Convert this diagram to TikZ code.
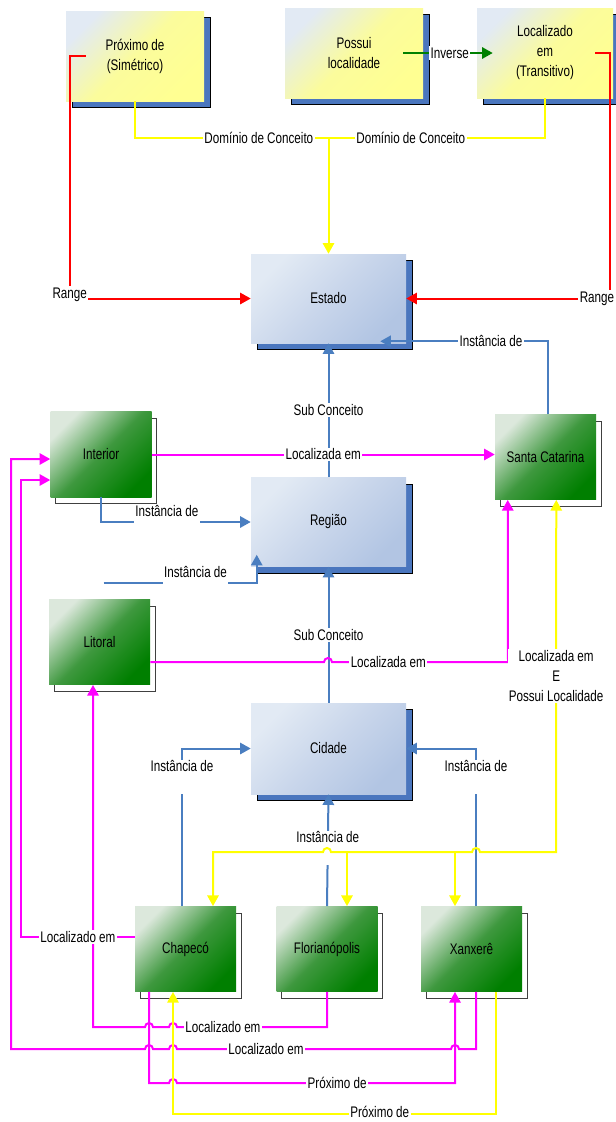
\documentclass[tikz,border=0pt]{standalone}
\usepackage{fontspec}
\setmainfont{Liberation Sans}[FakeStretch=0.76]
\usepackage{tikz}
\usetikzlibrary{arrows.meta,positioning,calc,shadows}
\definecolor{ontomist}{HTML}{E2EAF4}
\definecolor{ontocream}{HTML}{FBFC9C}
\definecolor{ontoyellow}{HTML}{FFFF92}
\definecolor{ontopale}{HTML}{C9D6EB}
\definecolor{ontoblue}{HTML}{B2C5E3}
\definecolor{ontoshadow}{HTML}{4A76BE}
\definecolor{ontoleaf}{HTML}{DCE8DC}
\definecolor{ontomid}{HTML}{3E983E}
\definecolor{ontogreen}{HTML}{007F00}
\definecolor{ontoline}{HTML}{4A7EC0}
\definecolor{ontomag}{HTML}{FF00FF}
\definecolor{ontoyel}{HTML}{FFFF00}
\definecolor{ontored}{HTML}{FF0000}
\definecolor{ontoarrow}{HTML}{008000}
\newcommand{\ontofont}{\fontsize{11.5}{15}\selectfont}

\begin{document}
\begin{tikzpicture}[x=0.75pt, y=-0.75pt,
  every node/.style={font=\ontofont},
  >={Triangle[length=8pt,width=8.5pt]},
  propbox/.style={minimum width=103.5pt, minimum height=67.5pt, align=center, top color=ontomist, bottom color=ontoyellow, middle color=ontocream, shading angle=45, drop shadow={shadow xshift=4.5pt, shadow yshift=-5pt, opacity=1, fill=ontoshadow, draw=black, line width=0.6pt}},
  classbox/.style={minimum width=116.25pt, minimum height=66.75pt, top color=ontomist, bottom color=ontoblue, middle color=ontopale, shading angle=45, drop shadow={shadow xshift=4.5pt, shadow yshift=-5pt, opacity=1, fill=ontoshadow, draw=black, line width=0.6pt}},
  instbox/.style={minimum width=75.75pt, minimum height=64pt, top color=ontoleaf, bottom color=ontogreen, middle color=ontomid, shading angle=45, drop shadow={shadow xshift=4pt, shadow yshift=-5pt, opacity=1, fill=white, draw=black!75, line width=0.7pt}},
  rline/.style={draw=ontored, line width=1.5pt},
  yline/.style={draw=ontoyel, line width=1.5pt},
  gline/.style={draw=ontoarrow, line width=1.5pt},
  bline/.style={draw=ontoline, line width=1.5pt},
  mline/.style={draw=ontomag, line width=1.5pt},
  lbl/.style={fill=white, inner sep=1pt},
  lblhigh/.style={lbl, text height=8pt, text depth=16pt}
]
\useasboundingbox (0,0) rectangle (616,1122);
\fill[white] (0,0) rectangle (616,1122);

% Properties (top row)
\node[propbox] (prox) at (135,56) {Próximo de\\(Simétrico)};
\node[propbox] (poss) at (354,53) {Possui\\localidade};
\node[propbox, minimum width=102pt] (loc) at (545,53) {Localizado\\em\\(Transitivo)};

% Concepts
\node[classbox] (estado) at (328.5,298.5) {Estado};
\node[classbox] (regiao) at (328.5,522) {Região};
\node[classbox, minimum height=68.25pt] (cidade) at (328.5,748.5) {Cidade};

% Instances
\node[instbox] (interior) at (101,454.5) {Interior};
\node[instbox] (santa) at (545.5,457) {Santa Catarina};
\node[instbox] (litoral) at (99.5,642) {Litoral};
\node[instbox] (cha) at (185.5,949) {Chapecó};
\node[instbox] (flor) at (327,949) {Florianópolis};
\node[instbox] (xan) at (471.5,949) {Xanxerê};

% Range
\draw[rline,->] ($(prox.west)+(20,0)$) -| node[lbl,pos=1,yshift=3pt]{Range} ($(estado.west)+(-181,0)$) -- (estado.west);
\draw[rline,->] ($(loc.east)+(-18,0)$) -| node[lbl,pos=1,xshift=-10pt]{Range} ($(estado.east)+(204,0)$) -- (estado.east);

% Domain
\coordinate (dom) at ($(estado.north)+(0,-115.5)$);
\draw[yline] (prox.south) |- node[lbl,pos=0.82]{Domínio de Conceito} (dom);
\draw[yline] (loc.south) |- node[lbl,pos=0.81]{Domínio de Conceito} (dom);
\draw[yline,->] (dom) -- (estado.north);

% Inverse
\draw[gline,->] ($(poss.east)+(-20,0)$) -- node[lbl,pos=0.52]{Inverse} ($(loc.west)+(16,0)$);

% Sub concepts and instances
\draw[bline,->] ($(santa.north)+(2.5,0)$) |- node[lbl,pos=0.67]{Instância de} ($(estado.south east)+(-26,-2)$);
\draw[bline,->] (regiao.north) -- node[lbl]{Sub Conceito} (estado.south);
\draw[bline,->] (interior.south) |- node[lblhigh,pos=0.72]{Instância de} (regiao.west);
\coordinate (loose) at ($(regiao.south west)+(-147,16.5)$);
\draw[bline,->] (loose) -| node[lblhigh,pos=0.3]{Instância de} ($(regiao.south west)+(6,-12)$);
\draw[bline,->] (cidade.north) -- node[lbl]{Sub Conceito} (regiao.south);
\draw[bline,->] ($(cha.north)+(-3.5,0)$) |- node[lblhigh,pos=0.41]{Instância de} (cidade.west);
\draw[bline,->] ($(xan.north)+(4.5,0)$) |- node[lblhigh,pos=0.41]{Instância de} (cidade.east);
\draw[bline,->] (flor.north) -- node[lblhigh,pos=0.52]{Instância de} (cidade.south);

% Localizada em
\draw[mline,->] (interior.east) -- node[lbl]{Localizada em} (interior.east -| santa.west);
\draw[mline,->] ($(litoral.east)+(0,20)$) -- (324,662) arc[start angle=180,end angle=0,radius=3pt] -- node[lbl,pos=0.32]{Localizada em} (508,662) -- ($(santa.south west)+(13,0)$);

% Localizada em E Possui Localidade
\draw[yline,<->] ($(santa.south east)+(-40,0)$) -- node[lbl,align=center]{Localizada em\\E\\Possui Localidade} (556,852) -- (480,852) arc[start angle=0,end angle=180,radius=3pt] -- (331,852) arc[start angle=0,end angle=180,radius=3pt] -- (213,852) -- ($(cha.north)+(27.5,0)$);
\draw[yline,->] ($(flor.north)+(20,-54)$) -- ($(flor.north)+(20,0)$);
\draw[yline,->] ($(xan.north)+(-16.5,-54)$) -- ($(xan.north)+(-16.5,0)$);

% Localizado em (bottom)
\draw[mline,->] (flor.south) |- node[lbl,pos=0.847]{Localizado em} (177,1027) arc[start angle=0,end angle=180,radius=3pt] -- (153,1027) arc[start angle=0,end angle=180,radius=3pt] -- (93,1027) -- ($(litoral.south)+(-6.5,0)$);
\draw[mline,->] ($(cha.west)+(0,-12)$) -- node[lbl]{Localizado em} (21,937) -- (21,480) -- ($(interior.west)+(0,25.5)$);
\draw[mline,->] ($(xan.south)+(4.5,0)$) |- (459,1049) arc[start angle=0,end angle=180,radius=3pt] -- node[lbl,pos=0.675]{Localizado em} (177,1049) arc[start angle=0,end angle=180,radius=3pt] -- (153,1049) arc[start angle=0,end angle=180,radius=3pt] -- (11,1049) -- (11,459) -- ($(interior.west)+(0,4.5)$);

% Próximo de
\draw[mline,->] ($(cha.south)+(-36.5,0)$) |- (169,1083) arc[start angle=180,end angle=0,radius=3pt] -- node[lbl,pos=0.576]{Próximo de} (455,1083) -- ($(xan.south)+(-16.5,0)$);
\draw[yline,->] ($(xan.south)+(24.5,0)$) |- node[lbl,pos=0.68,yshift=1.5pt]{Próximo de} ($(cha.south)+(-12.5,122)$) -- ($(cha.south)+(-12.5,0)$);

\end{tikzpicture}
\end{document}
